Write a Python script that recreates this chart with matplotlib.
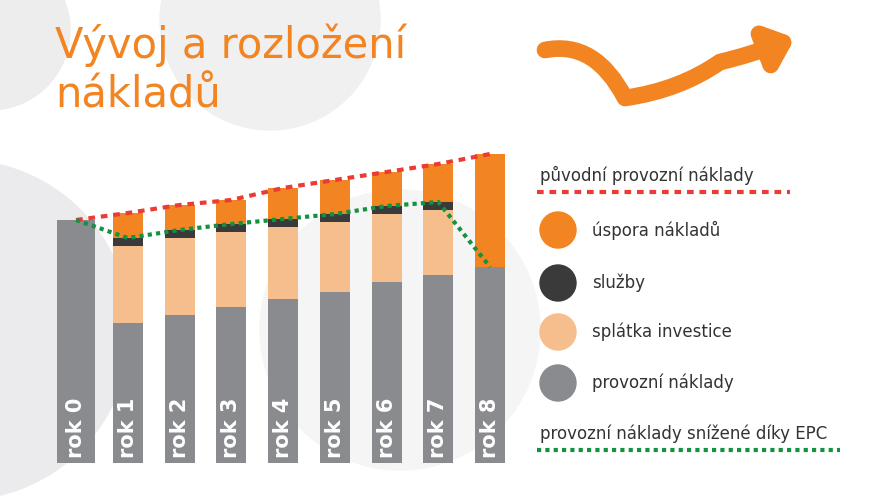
import matplotlib

matplotlib.use("Agg")
import matplotlib.pyplot as plt
from matplotlib.patches import Circle, FancyArrowPatch
from matplotlib.path import Path
import numpy as np

YEARS = ["rok 0", "rok 1", "rok 2", "rok 3", "rok 4", "rok 5", "rok 6", "rok 7", "rok 8"]
PROVOZ = [243, 140, 148, 156, 164, 171, 181, 188, 196]
SPLATKA = [0, 77, 77, 75, 72, 70, 68, 65, 0]
SLUZBY = [0, 8, 8, 8, 8, 8, 8, 8, 0]
USPORA = [0, 25, 25, 24, 31, 34, 34, 38, 113]

GRAY = "#8a8b8e"
PEACH = "#f6bd8d"
DARK = "#3a3a3a"
ORANGE = "#f28421"
RED = "#ec3a34"
GREEN = "#13923f"
TEXT = "#333333"

W, H = 895, 497
fig = plt.figure(figsize=(W / 100, H / 100), dpi=100)
fig.patch.set_facecolor("white")

# background decoration
bg = fig.add_axes([0, 0, 1, 1])
bg.set_xlim(0, W)
bg.set_ylim(H, 0)
bg.axis("off")
for cx, cy, r, c in [(-40, 330, 170, "#ebebed"), (270, 20, 110, "#f0f0f0"),
                     (-10, 30, 80, "#ededed"), (400, 330, 140, "#f5f5f5")]:
    bg.add_patch(Circle((cx, cy), r, color=c, zorder=0))
bg.text(55, 70, "Vývoj a rozložení\nnákladů", color=ORANGE, fontsize=30,
        va="center", ha="left", linespacing=1.25)
verts = [(545, 50), (595, 40), (625, 98), (680, 90), (720, 62), (750, 55), (795, 38)]
codes = [Path.MOVETO, Path.CURVE3, Path.CURVE3, Path.CURVE3, Path.CURVE3, Path.CURVE3, Path.CURVE3]
bg.add_patch(FancyArrowPatch(path=Path(verts, codes), arrowstyle="-|>,head_length=14,head_width=12",
                             color=ORANGE, linewidth=12, zorder=2))

# legend
bg.text(540, 175, "původní provozní náklady", fontsize=12, color=TEXT, va="center")
bg.plot([537, 790], [192, 192], color=RED, linestyle=(0, (1.6, 1.4)), linewidth=3)
for y, c, lab in [(230, ORANGE, "úspora nákladů"), (283, DARK, "služby"),
                  (332, PEACH, "splátka investice"), (383, GRAY, "provozní náklady")]:
    bg.add_patch(Circle((558, y), 18, color=c))
    bg.text(592, y, lab, fontsize=12, color=TEXT, va="center")
bg.text(540, 434, "provozní náklady snížené díky EPC", fontsize=12, color=TEXT, va="center")
bg.plot([537, 840], [450, 450], color=GREEN, linestyle=(0, (1, 1)), linewidth=3)

# bars
ax = fig.add_axes([45 / W, 1 - 463 / H, 480 / W, 323 / H])
ax.set_facecolor("none")
x = np.arange(len(YEARS))
prov = np.array(PROVOZ)
spl = np.array(SPLATKA)
slu = np.array(SLUZBY)
usp = np.array(USPORA)
bw = np.full(len(YEARS), 0.58)
bw[0] = 0.72
ax.bar(x, prov, bw, color=GRAY, zorder=2)
ax.bar(x, spl, bw, bottom=prov, color=PEACH, zorder=2)
ax.bar(x, slu, bw, bottom=prov + spl, color=DARK, zorder=2)
ax.bar(x, usp, bw, bottom=prov + spl + slu, color=ORANGE, zorder=2)
total = prov + spl + slu + usp
reduced = prov + spl + slu
ax.plot(x, total, color=RED, linestyle=(0, (1.6, 1.4)), linewidth=3, zorder=4)
ax.plot(x, reduced, color=GREEN, linestyle=(0, (1, 1)), linewidth=3, zorder=4)
for xi, lab in zip(x, YEARS):
    ax.text(xi, 5, lab, rotation=90, ha="center", va="bottom", color="white",
            fontsize=15, fontweight="bold", zorder=5)
ax.set_xlim(-0.6, -0.6 + 480 / 51.75)
ax.set_ylim(0, 323)
ax.axis("off")

fig.savefig("out.png", dpi=100, facecolor="white")
